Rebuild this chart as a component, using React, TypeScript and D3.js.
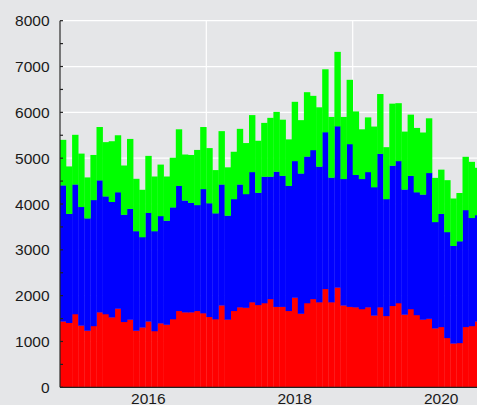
import React from "react";
import * as d3 from "d3";

// monthly values, Nov 2014 .. Jul 2020
const firstMonth = new Date(2014, 10, 1);
const endMonth = new Date(2020, 7, 1);

const redValues = [
  1440, 1410, 1600, 1350, 1240, 1340, 1640, 1600, 1530, 1720, 1430, 1480,
  1240, 1310, 1440, 1230, 1400, 1370, 1490, 1670, 1640, 1640, 1670, 1620,
  1540, 1490, 1790, 1480, 1670, 1750, 1740, 1860, 1800, 1840, 1930, 1760,
  1760, 1670, 1960, 1610, 1840, 1930, 1860, 2150, 1860, 2180, 1790, 1760,
  1750, 1710, 1750, 1570, 1750, 1560, 1780, 1840, 1590, 1710, 1580, 1480,
  1500, 1290, 1320, 1080, 960, 970, 1320, 1340, 1440,
];
const blueValues = [
  2970, 2380, 2830, 2590, 2450, 2750, 2880, 2570, 2520, 2540, 2340, 2420,
  2170, 1970, 2370, 2180, 2340, 2270, 2440, 2730, 2440, 2390, 2310, 2710,
  2480, 2310, 2640, 2270, 2440, 2680, 2480, 2840, 2450, 2760, 2670, 2950,
  2860, 2730, 2980, 3060, 3200, 3250, 2960, 3420, 2720, 3520, 2760, 3550,
  2890, 2840, 2950, 2800, 3350, 2550, 3060, 3100, 2730, 2910, 2680, 2730,
  3180, 2320, 2470, 2310, 2130, 2220, 2550, 2360, 2320,
];
const greenValues = [
  990, 1030, 1080, 1160, 890, 980, 1160, 1180, 1320, 1240, 1070, 1520,
  1140, 1030, 1240, 1190, 1120, 960, 1080, 1230, 1000, 1040, 1200, 1350,
  1200, 940, 1160, 1050, 1030, 1210, 1110, 1240, 1130, 1170, 1280, 1300,
  1220, 1010, 1290, 1160, 1400, 1180, 1290, 1370, 1320, 1620, 1350, 1400,
  1380, 1080, 1190, 1320, 1300, 1130, 1350, 1260, 1260, 1330, 1400, 1350,
  1190, 960, 960, 1130, 1030, 1050, 1160, 1220, 1030,
];

const seriesKeys = ["red", "blue", "green"];
const seriesColors = ["#ff0000", "#0000ff", "#00ff00"];
const yTicks = [0, 1000, 2000, 3000, 4000, 5000, 6000, 7000, 8000];
const yMinorTicks = [500, 1500, 2500, 3500, 4500, 5500, 6500, 7500];
const yearLabels = ["2016", "2018", "2020"];
const gridMonths = [new Date(2014, 10, 1), new Date(2016, 10, 1), new Date(2018, 10, 1)];

const W = 477;
const H = 405;
const left = 60;
const bottom = 387.3;
const top = 20.7;

export default function App() {
  const months = d3.timeMonth.range(firstMonth, endMonth);
  const key = (d: Date) => d3.timeFormat("%Y-%m")(d);

  const rows = months.map((m, i) => ({
    month: key(m),
    red: redValues[i],
    blue: blueValues[i],
    green: greenValues[i],
  }));

  const x = d3
    .scaleBand()
    .domain(months.map(key))
    .range([59.9, 59.9 + 6.1 * months.length])
    .paddingInner(0)
    .paddingOuter(0);

  const y = d3.scaleLinear().domain([0, 8000]).range([bottom, top]);

  const stacked = d3.stack().keys(seriesKeys)(rows as any);

  const font = "'Liberation Sans', Arial, Helvetica, sans-serif";

  return (
    <svg
      width={W}
      height={H}
      style={{ position: "absolute", left: 0, top: 0, display: "block" }}
    >
      <rect x={0} y={0} width={W} height={H} fill="#e5e6e8" />

      {/* grid */}
      {yTicks.map((t) => (
        <line
          key={"gy" + t}
          x1={left}
          x2={W}
          y1={y(t)}
          y2={y(t)}
          stroke="#ffffff"
          strokeWidth={1.2}
        />
      ))}
      {gridMonths.map((m) => (
        <line
          key={"gx" + key(m)}
          x1={x(key(m))}
          x2={x(key(m))}
          y1={top}
          y2={bottom}
          stroke="#ffffff"
          strokeWidth={1.2}
        />
      ))}

      {/* bars, slightly overlapped so the seams stay faint */}
      {stacked.map((layer, li) => (
        <g key={seriesKeys[li]} fill={seriesColors[li]}>
          {layer.map((d: any) => {
            const x0 = Math.max(x(d.data.month) as number, left);
            const x1 = (x(d.data.month) as number) + x.bandwidth() + 0.3;
            return (
              <rect
                key={d.data.month}
                x={x0}
                width={x1 - x0}
                y={y(d[1])}
                height={y(d[0]) - y(d[1]) + (li > 0 ? 0.3 : 0)}
              />
            );
          })}
        </g>
      ))}

      {/* axes */}
      <line x1={left} x2={left} y1={top} y2={bottom} stroke="#222" strokeWidth={1.2} />
      <line x1={left} x2={W} y1={bottom} y2={bottom} stroke="#222" strokeWidth={1.2} />
      {[...yTicks, ...yMinorTicks].map((t) => (
        <line
          key={"t" + t}
          x1={left}
          x2={left + 3}
          y1={y(t)}
          y2={y(t)}
          stroke="#222"
          strokeWidth={1.2}
        />
      ))}
      {yTicks.map((t) => (
        <text
          key={"l" + t}
          x={49.5}
          y={y(t)}
          textAnchor="end"
          dominantBaseline="central"
          fontFamily={font}
          fontSize={15.5}
          fill="#1a1a1a"
        >
          {t}
        </text>
      ))}
      {yearLabels.map((yr) => {
        const m = key(new Date(+yr, 0, 1));
        return (
          <text
            key={yr}
            x={(x(m) as number) + x.bandwidth() / 2}
            y={403.5}
            textAnchor="middle"
            fontFamily={font}
            fontSize={15.5}
            fill="#1a1a1a"
          >
            {yr}
          </text>
        );
      })}
    </svg>
  );
}
